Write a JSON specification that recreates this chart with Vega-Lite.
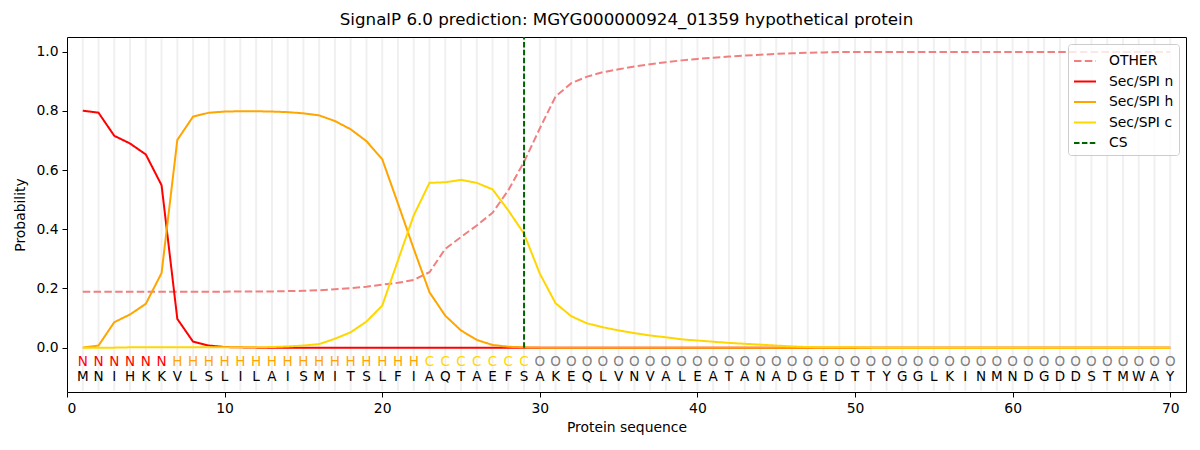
{
  "$schema": "https://vega.github.io/schema/vega-lite/v6.json",
  "description": "SignalP 6.0 per-residue probabilities.",
  "width": 1119,
  "height": 355,
  "autosize": {"type": "none"},
  "padding": {"left": 67, "top": 37, "right": 14, "bottom": 58},
  "title": {
    "text": "SignalP 6.0 prediction: MGYG000000924_01359 hypothetical protein",
    "fontSize": 16.7,
    "fontWeight": "normal",
    "font": "DejaVu Sans",
    "color": "black",
    "offset": 7
  },
  "datasets": {
    "seq": [
      {"pos": 1, "aa": "M", "lab": "N", "OTHER": 0.189, "Sec/SPI n": 0.801, "Sec/SPI h": 0.000, "Sec/SPI c": 0.000},
      {"pos": 2, "aa": "N", "lab": "N", "OTHER": 0.189, "Sec/SPI n": 0.794, "Sec/SPI h": 0.007, "Sec/SPI c": 0.000},
      {"pos": 3, "aa": "I", "lab": "N", "OTHER": 0.189, "Sec/SPI n": 0.716, "Sec/SPI h": 0.086, "Sec/SPI c": 0.000},
      {"pos": 4, "aa": "H", "lab": "N", "OTHER": 0.189, "Sec/SPI n": 0.690, "Sec/SPI h": 0.112, "Sec/SPI c": 0.001},
      {"pos": 5, "aa": "K", "lab": "N", "OTHER": 0.189, "Sec/SPI n": 0.653, "Sec/SPI h": 0.148, "Sec/SPI c": 0.001},
      {"pos": 6, "aa": "K", "lab": "N", "OTHER": 0.189, "Sec/SPI n": 0.549, "Sec/SPI h": 0.252, "Sec/SPI c": 0.001},
      {"pos": 7, "aa": "V", "lab": "H", "OTHER": 0.189, "Sec/SPI n": 0.097, "Sec/SPI h": 0.702, "Sec/SPI c": 0.001},
      {"pos": 8, "aa": "L", "lab": "H", "OTHER": 0.189, "Sec/SPI n": 0.020, "Sec/SPI h": 0.781, "Sec/SPI c": 0.001},
      {"pos": 9, "aa": "S", "lab": "H", "OTHER": 0.189, "Sec/SPI n": 0.007, "Sec/SPI h": 0.794, "Sec/SPI c": 0.001},
      {"pos": 10, "aa": "L", "lab": "H", "OTHER": 0.189, "Sec/SPI n": 0.002, "Sec/SPI h": 0.798, "Sec/SPI c": 0.001},
      {"pos": 11, "aa": "I", "lab": "H", "OTHER": 0.190, "Sec/SPI n": 0.001, "Sec/SPI h": 0.799, "Sec/SPI c": 0.001},
      {"pos": 12, "aa": "L", "lab": "H", "OTHER": 0.190, "Sec/SPI n": 0.000, "Sec/SPI h": 0.799, "Sec/SPI c": 0.001},
      {"pos": 13, "aa": "A", "lab": "H", "OTHER": 0.190, "Sec/SPI n": 0.000, "Sec/SPI h": 0.798, "Sec/SPI c": 0.002},
      {"pos": 14, "aa": "I", "lab": "H", "OTHER": 0.191, "Sec/SPI n": 0.000, "Sec/SPI h": 0.796, "Sec/SPI c": 0.004},
      {"pos": 15, "aa": "S", "lab": "H", "OTHER": 0.192, "Sec/SPI n": 0.000, "Sec/SPI h": 0.792, "Sec/SPI c": 0.007},
      {"pos": 16, "aa": "M", "lab": "H", "OTHER": 0.194, "Sec/SPI n": 0.000, "Sec/SPI h": 0.785, "Sec/SPI c": 0.012},
      {"pos": 17, "aa": "I", "lab": "H", "OTHER": 0.197, "Sec/SPI n": 0.000, "Sec/SPI h": 0.766, "Sec/SPI c": 0.030},
      {"pos": 18, "aa": "T", "lab": "H", "OTHER": 0.201, "Sec/SPI n": 0.000, "Sec/SPI h": 0.738, "Sec/SPI c": 0.052},
      {"pos": 19, "aa": "S", "lab": "H", "OTHER": 0.206, "Sec/SPI n": 0.000, "Sec/SPI h": 0.698, "Sec/SPI c": 0.088},
      {"pos": 20, "aa": "L", "lab": "H", "OTHER": 0.213, "Sec/SPI n": 0.000, "Sec/SPI h": 0.637, "Sec/SPI c": 0.142},
      {"pos": 21, "aa": "F", "lab": "H", "OTHER": 0.219, "Sec/SPI n": 0.000, "Sec/SPI h": 0.487, "Sec/SPI c": 0.295},
      {"pos": 22, "aa": "I", "lab": "H", "OTHER": 0.229, "Sec/SPI n": 0.000, "Sec/SPI h": 0.334, "Sec/SPI c": 0.447},
      {"pos": 23, "aa": "A", "lab": "C", "OTHER": 0.255, "Sec/SPI n": 0.000, "Sec/SPI h": 0.187, "Sec/SPI c": 0.557},
      {"pos": 24, "aa": "Q", "lab": "C", "OTHER": 0.334, "Sec/SPI n": 0.000, "Sec/SPI h": 0.108, "Sec/SPI c": 0.559},
      {"pos": 25, "aa": "T", "lab": "C", "OTHER": 0.374, "Sec/SPI n": 0.000, "Sec/SPI h": 0.058, "Sec/SPI c": 0.567},
      {"pos": 26, "aa": "A", "lab": "C", "OTHER": 0.413, "Sec/SPI n": 0.000, "Sec/SPI h": 0.026, "Sec/SPI c": 0.557},
      {"pos": 27, "aa": "E", "lab": "C", "OTHER": 0.456, "Sec/SPI n": 0.000, "Sec/SPI h": 0.009, "Sec/SPI c": 0.535},
      {"pos": 28, "aa": "F", "lab": "C", "OTHER": 0.532, "Sec/SPI n": 0.000, "Sec/SPI h": 0.003, "Sec/SPI c": 0.464},
      {"pos": 29, "aa": "S", "lab": "C", "OTHER": 0.628, "Sec/SPI n": 0.000, "Sec/SPI h": 0.001, "Sec/SPI c": 0.385},
      {"pos": 30, "aa": "A", "lab": "O", "OTHER": 0.741, "Sec/SPI n": 0.000, "Sec/SPI h": 0.000, "Sec/SPI c": 0.250},
      {"pos": 31, "aa": "K", "lab": "O", "OTHER": 0.849, "Sec/SPI n": 0.000, "Sec/SPI h": 0.000, "Sec/SPI c": 0.150},
      {"pos": 32, "aa": "E", "lab": "O", "OTHER": 0.894, "Sec/SPI n": 0.000, "Sec/SPI h": 0.000, "Sec/SPI c": 0.106},
      {"pos": 33, "aa": "Q", "lab": "O", "OTHER": 0.916, "Sec/SPI n": 0.000, "Sec/SPI h": 0.000, "Sec/SPI c": 0.082},
      {"pos": 34, "aa": "L", "lab": "O", "OTHER": 0.931, "Sec/SPI n": 0.000, "Sec/SPI h": 0.000, "Sec/SPI c": 0.069},
      {"pos": 35, "aa": "V", "lab": "O", "OTHER": 0.941, "Sec/SPI n": 0.000, "Sec/SPI h": 0.000, "Sec/SPI c": 0.058},
      {"pos": 36, "aa": "N", "lab": "O", "OTHER": 0.950, "Sec/SPI n": 0.000, "Sec/SPI h": 0.000, "Sec/SPI c": 0.049},
      {"pos": 37, "aa": "V", "lab": "O", "OTHER": 0.958, "Sec/SPI n": 0.000, "Sec/SPI h": 0.000, "Sec/SPI c": 0.041},
      {"pos": 38, "aa": "A", "lab": "O", "OTHER": 0.965, "Sec/SPI n": 0.000, "Sec/SPI h": 0.000, "Sec/SPI c": 0.035},
      {"pos": 39, "aa": "L", "lab": "O", "OTHER": 0.971, "Sec/SPI n": 0.000, "Sec/SPI h": 0.000, "Sec/SPI c": 0.028},
      {"pos": 40, "aa": "E", "lab": "O", "OTHER": 0.976, "Sec/SPI n": 0.000, "Sec/SPI h": 0.000, "Sec/SPI c": 0.024},
      {"pos": 41, "aa": "A", "lab": "O", "OTHER": 0.980, "Sec/SPI n": 0.000, "Sec/SPI h": 0.000, "Sec/SPI c": 0.020},
      {"pos": 42, "aa": "T", "lab": "O", "OTHER": 0.984, "Sec/SPI n": 0.000, "Sec/SPI h": 0.000, "Sec/SPI c": 0.016},
      {"pos": 43, "aa": "A", "lab": "O", "OTHER": 0.987, "Sec/SPI n": 0.000, "Sec/SPI h": 0.000, "Sec/SPI c": 0.013},
      {"pos": 44, "aa": "N", "lab": "O", "OTHER": 0.990, "Sec/SPI n": 0.000, "Sec/SPI h": 0.000, "Sec/SPI c": 0.010},
      {"pos": 45, "aa": "A", "lab": "O", "OTHER": 0.993, "Sec/SPI n": 0.000, "Sec/SPI h": 0.000, "Sec/SPI c": 0.007},
      {"pos": 46, "aa": "D", "lab": "O", "OTHER": 0.995, "Sec/SPI n": 0.000, "Sec/SPI h": 0.000, "Sec/SPI c": 0.004},
      {"pos": 47, "aa": "G", "lab": "O", "OTHER": 0.997, "Sec/SPI n": 0.000, "Sec/SPI h": 0.000, "Sec/SPI c": 0.002},
      {"pos": 48, "aa": "E", "lab": "O", "OTHER": 0.998, "Sec/SPI n": 0.000, "Sec/SPI h": 0.000, "Sec/SPI c": 0.001},
      {"pos": 49, "aa": "D", "lab": "O", "OTHER": 0.999, "Sec/SPI n": 0.000, "Sec/SPI h": 0.000, "Sec/SPI c": 0.001},
      {"pos": 50, "aa": "T", "lab": "O", "OTHER": 0.999, "Sec/SPI n": 0.000, "Sec/SPI h": 0.000, "Sec/SPI c": 0.001},
      {"pos": 51, "aa": "T", "lab": "O", "OTHER": 0.999, "Sec/SPI n": 0.000, "Sec/SPI h": 0.000, "Sec/SPI c": 0.000},
      {"pos": 52, "aa": "Y", "lab": "O", "OTHER": 0.999, "Sec/SPI n": 0.000, "Sec/SPI h": 0.000, "Sec/SPI c": 0.000},
      {"pos": 53, "aa": "G", "lab": "O", "OTHER": 0.999, "Sec/SPI n": 0.000, "Sec/SPI h": 0.000, "Sec/SPI c": 0.000},
      {"pos": 54, "aa": "G", "lab": "O", "OTHER": 0.999, "Sec/SPI n": 0.000, "Sec/SPI h": 0.000, "Sec/SPI c": 0.000},
      {"pos": 55, "aa": "L", "lab": "O", "OTHER": 0.999, "Sec/SPI n": 0.000, "Sec/SPI h": 0.000, "Sec/SPI c": 0.000},
      {"pos": 56, "aa": "K", "lab": "O", "OTHER": 0.999, "Sec/SPI n": 0.000, "Sec/SPI h": 0.000, "Sec/SPI c": 0.000},
      {"pos": 57, "aa": "I", "lab": "O", "OTHER": 0.999, "Sec/SPI n": 0.000, "Sec/SPI h": 0.000, "Sec/SPI c": 0.000},
      {"pos": 58, "aa": "N", "lab": "O", "OTHER": 0.999, "Sec/SPI n": 0.000, "Sec/SPI h": 0.000, "Sec/SPI c": 0.000},
      {"pos": 59, "aa": "M", "lab": "O", "OTHER": 0.999, "Sec/SPI n": 0.000, "Sec/SPI h": 0.000, "Sec/SPI c": 0.000},
      {"pos": 60, "aa": "N", "lab": "O", "OTHER": 0.999, "Sec/SPI n": 0.000, "Sec/SPI h": 0.000, "Sec/SPI c": 0.000},
      {"pos": 61, "aa": "D", "lab": "O", "OTHER": 0.999, "Sec/SPI n": 0.000, "Sec/SPI h": 0.000, "Sec/SPI c": 0.000},
      {"pos": 62, "aa": "G", "lab": "O", "OTHER": 0.999, "Sec/SPI n": 0.000, "Sec/SPI h": 0.000, "Sec/SPI c": 0.000},
      {"pos": 63, "aa": "D", "lab": "O", "OTHER": 0.999, "Sec/SPI n": 0.000, "Sec/SPI h": 0.000, "Sec/SPI c": 0.000},
      {"pos": 64, "aa": "D", "lab": "O", "OTHER": 0.999, "Sec/SPI n": 0.000, "Sec/SPI h": 0.000, "Sec/SPI c": 0.000},
      {"pos": 65, "aa": "S", "lab": "O", "OTHER": 0.999, "Sec/SPI n": 0.000, "Sec/SPI h": 0.000, "Sec/SPI c": 0.000},
      {"pos": 66, "aa": "T", "lab": "O", "OTHER": 0.999, "Sec/SPI n": 0.000, "Sec/SPI h": 0.000, "Sec/SPI c": 0.000},
      {"pos": 67, "aa": "M", "lab": "O", "OTHER": 0.999, "Sec/SPI n": 0.000, "Sec/SPI h": 0.000, "Sec/SPI c": 0.000},
      {"pos": 68, "aa": "W", "lab": "O", "OTHER": 0.999, "Sec/SPI n": 0.000, "Sec/SPI h": 0.000, "Sec/SPI c": 0.000},
      {"pos": 69, "aa": "A", "lab": "O", "OTHER": 0.999, "Sec/SPI n": 0.000, "Sec/SPI h": 0.000, "Sec/SPI c": 0.000},
      {"pos": 70, "aa": "Y", "lab": "O", "OTHER": 0.999, "Sec/SPI n": 0.000, "Sec/SPI h": 0.000, "Sec/SPI c": 0.000}
    ],
    "cs": [
      {"series": "CS", "pos": 29}
    ]
  },
  "layer": [
    {
      "data": {"name": "seq"},
      "mark": {"type": "rule", "color": "#f0f0f0", "strokeWidth": 2},
      "encoding": {
        "x": {"field": "pos", "type": "quantitative"},
        "y": {"datum": -0.146},
        "y2": {"datum": 1.046}
      }
    },
    {
      "data": {"name": "seq"},
      "transform": [
        {"fold": ["OTHER", "Sec/SPI n", "Sec/SPI h", "Sec/SPI c"], "as": ["series", "prob"]}
      ],
      "mark": {"type": "line", "strokeWidth": 2},
      "encoding": {
        "x": {"field": "pos", "type": "quantitative"},
        "y": {"field": "prob", "type": "quantitative"},
        "color": {"field": "series", "type": "nominal"},
        "strokeDash": {"field": "series", "type": "nominal"}
      }
    },
    {
      "data": {"name": "cs"},
      "mark": {"type": "rule", "strokeWidth": 2},
      "encoding": {
        "x": {"field": "pos", "type": "quantitative"},
        "y": {"datum": 0},
        "y2": {"datum": 1.05},
        "color": {"field": "series", "type": "nominal"},
        "strokeDash": {"field": "series", "type": "nominal"}
      }
    },
    {
      "data": {"name": "seq"},
      "mark": {"type": "text", "font": "DejaVu Sans", "fontSize": 13.5, "baseline": "middle"},
      "encoding": {
        "x": {"field": "pos", "type": "quantitative"},
        "y": {"datum": -0.047},
        "text": {"field": "lab"},
        "fill": {
          "field": "lab",
          "type": "nominal",
          "scale": {"domain": ["N", "H", "C", "O"], "range": ["#ff0000", "#ffa500", "#ffd700", "#808080"]},
          "legend": null
        }
      }
    },
    {
      "data": {"name": "seq"},
      "mark": {"type": "text", "font": "DejaVu Sans", "fontSize": 13.5, "baseline": "middle", "color": "#000000"},
      "encoding": {
        "x": {"field": "pos", "type": "quantitative"},
        "y": {"datum": -0.1},
        "text": {"field": "aa"}
      }
    }
  ],
  "encoding": {
    "x": {
      "field": "pos",
      "type": "quantitative",
      "scale": {"domain": [0, 71], "nice": false, "zero": false},
      "axis": {"values": [0, 10, 20, 30, 40, 50, 60, 70], "title": "Protein sequence"}
    },
    "y": {
      "type": "quantitative",
      "scale": {"domain": [-0.15, 1.05], "nice": false, "zero": false},
      "axis": {"values": [0, 0.2, 0.4, 0.6, 0.8, 1.0], "format": ".1f", "title": "Probability"}
    },
    "color": {
      "scale": {
        "domain": ["OTHER", "Sec/SPI n", "Sec/SPI h", "Sec/SPI c", "CS"],
        "range": ["#f08080", "#ff0000", "#ffa500", "#ffd700", "#006400"]
      },
      "title": null
    },
    "strokeDash": {
      "scale": {
        "domain": ["OTHER", "Sec/SPI n", "Sec/SPI h", "Sec/SPI c", "CS"],
        "range": [[7.5, 3.3], [1, 0], [1, 0], [1, 0], [5.5, 2.4]]
      },
      "title": null
    }
  },
  "config": {
    "font": "DejaVu Sans",
    "view": {"stroke": "#000000", "strokeWidth": 1},
    "axis": {
      "grid": false,
      "domain": false,
      "tickColor": "#000000",
      "tickSize": 5,
      "tickWidth": 1,
      "labelColor": "#000000",
      "labelFontSize": 13.9,
      "labelFont": "DejaVu Sans",
      "labelPadding": 4,
      "titleFont": "DejaVu Sans",
      "titleFontSize": 13.9,
      "titleFontWeight": "normal",
      "titleColor": "#000000"
    },
    "axisX": {"titlePadding": 6},
    "axisY": {"titlePadding": 8},
    "legend": {
      "orient": "top-right",
      "offset": 7,
      "padding": 5,
      "symbolType": "stroke",
      "symbolSize": 484,
      "symbolStrokeWidth": 2,
      "labelFontSize": 13.9,
      "labelFont": "DejaVu Sans",
      "labelColor": "#000000",
      "labelOffset": 12,
      "rowPadding": 1.5,
      "strokeColor": "#cccccc",
      "fillColor": "rgba(255,255,255,0.8)",
      "cornerRadius": 3
    }
  }
}
